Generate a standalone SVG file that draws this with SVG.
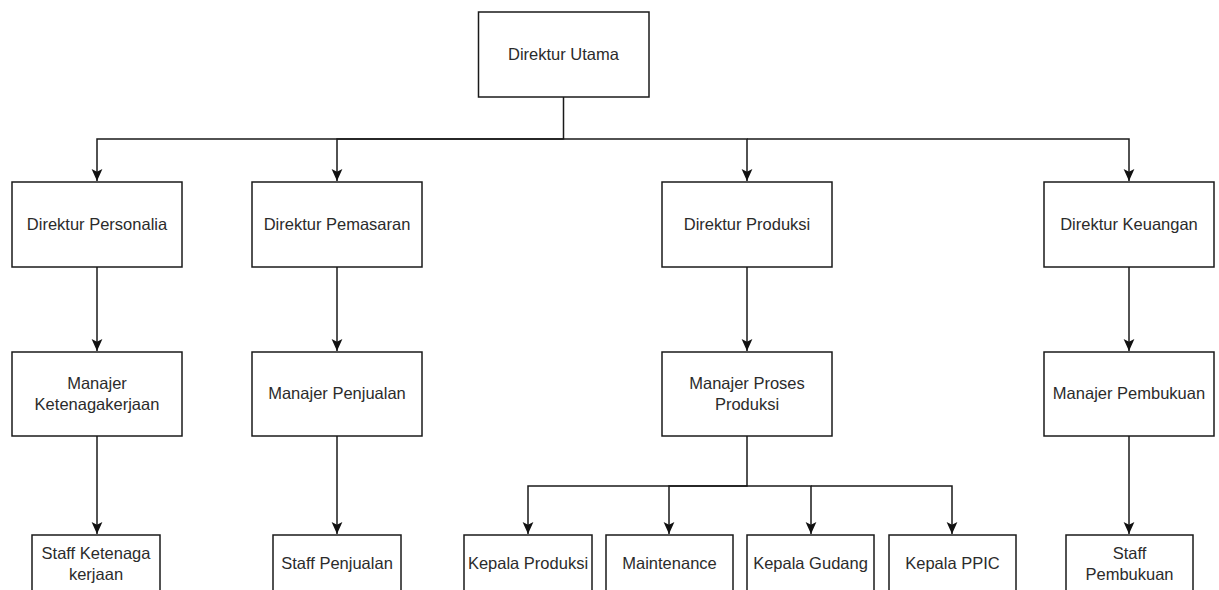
<svg xmlns="http://www.w3.org/2000/svg" width="1219" height="590" viewBox="0 0 1219 590">
<style>
.box{fill:#ffffff;stroke:#1a1a1a;stroke-width:1.5}
.lbl{font-family:"Liberation Sans",Arial,sans-serif;font-size:16.5px;fill:#2b2b2b;text-anchor:middle}
.edge{fill:none;stroke:#1a1a1a;stroke-width:1.5}
</style>
<defs>
<marker id="arr" viewBox="0 0 10 10" refX="10" refY="5" markerWidth="12" markerHeight="12" markerUnits="userSpaceOnUse" orient="auto">
<path d="M0,0.5 L10,5 L0,9.5 L2.2,5 Z" fill="#111111"/>
</marker>
</defs>
<rect width="1219" height="590" fill="#ffffff"/>
<g id="connectors">
<path class="edge" d="M563.5,97 V139 H97 V181" marker-end="url(#arr)"/>
<path class="edge" d="M563.5,139 H337 V181" marker-end="url(#arr)"/>
<path class="edge" d="M563.5,139 H747 V181" marker-end="url(#arr)"/>
<path class="edge" d="M747,139 H1129 V181" marker-end="url(#arr)"/>
<path class="edge" d="M97,267 V351" marker-end="url(#arr)"/>
<path class="edge" d="M337,267 V351" marker-end="url(#arr)"/>
<path class="edge" d="M747,267 V351" marker-end="url(#arr)"/>
<path class="edge" d="M1129,267 V351" marker-end="url(#arr)"/>
<path class="edge" d="M97,436 V534" marker-end="url(#arr)"/>
<path class="edge" d="M337,436 V534" marker-end="url(#arr)"/>
<path class="edge" d="M1129,436 V534" marker-end="url(#arr)"/>
<path class="edge" d="M747,436 V486 H528 V534" marker-end="url(#arr)"/>
<path class="edge" d="M747,486 H669 V534" marker-end="url(#arr)"/>
<path class="edge" d="M747,486 H811 V534" marker-end="url(#arr)"/>
<path class="edge" d="M811,486 H952 V534" marker-end="url(#arr)"/>
</g>
<g id="direktur-utama"><rect class="box" x="478.5" y="12" width="170.5" height="85"/><text class="lbl" x="563.5" y="59.5">Direktur Utama</text></g>
<g id="direktur-personalia"><rect class="box" x="12" y="182" width="170" height="85"/><text class="lbl" x="97" y="229.5">Direktur Personalia</text></g>
<g id="direktur-pemasaran"><rect class="box" x="252" y="182" width="170" height="85"/><text class="lbl" x="337" y="229.5">Direktur Pemasaran</text></g>
<g id="direktur-produksi"><rect class="box" x="662" y="182" width="170" height="85"/><text class="lbl" x="747" y="229.5">Direktur Produksi</text></g>
<g id="direktur-keuangan"><rect class="box" x="1044" y="182" width="170" height="85"/><text class="lbl" x="1129" y="229.5">Direktur Keuangan</text></g>
<g id="manajer-ketenagakerjaan"><rect class="box" x="12" y="352" width="170" height="84"/><text class="lbl" x="97" y="389">Manajer</text><text class="lbl" x="97" y="410">Ketenagakerjaan</text></g>
<g id="manajer-penjualan"><rect class="box" x="252" y="352" width="170" height="84"/><text class="lbl" x="337" y="399">Manajer Penjualan</text></g>
<g id="manajer-proses-produksi"><rect class="box" x="662" y="352" width="170" height="84"/><text class="lbl" x="747" y="389">Manajer Proses</text><text class="lbl" x="747" y="410">Produksi</text></g>
<g id="manajer-pembukuan"><rect class="box" x="1044" y="352" width="170" height="84"/><text class="lbl" x="1129" y="399">Manajer Pembukuan</text></g>
<g id="staff-ketenagakerjaan"><rect class="box" x="32" y="535" width="128" height="62"/><text class="lbl" x="96" y="558.5">Staff Ketenaga</text><text class="lbl" x="96" y="579.5">kerjaan</text></g>
<g id="staff-penjualan"><rect class="box" x="273" y="535" width="128" height="62"/><text class="lbl" x="337" y="569">Staff Penjualan</text></g>
<g id="kepala-produksi"><rect class="box" x="464" y="535" width="128" height="62"/><text class="lbl" x="528" y="569">Kepala Produksi</text></g>
<g id="maintenance"><rect class="box" x="606" y="535" width="127" height="62"/><text class="lbl" x="669.5" y="569">Maintenance</text></g>
<g id="kepala-gudang"><rect class="box" x="747" y="535" width="127" height="62"/><text class="lbl" x="810.5" y="569">Kepala Gudang</text></g>
<g id="kepala-ppic"><rect class="box" x="889" y="535" width="127" height="62"/><text class="lbl" x="952.5" y="569">Kepala PPIC</text></g>
<g id="staff-pembukuan"><rect class="box" x="1066" y="535" width="127" height="62"/><text class="lbl" x="1129.5" y="559">Staff</text><text class="lbl" x="1129.5" y="580">Pembukuan</text></g>
</svg>
